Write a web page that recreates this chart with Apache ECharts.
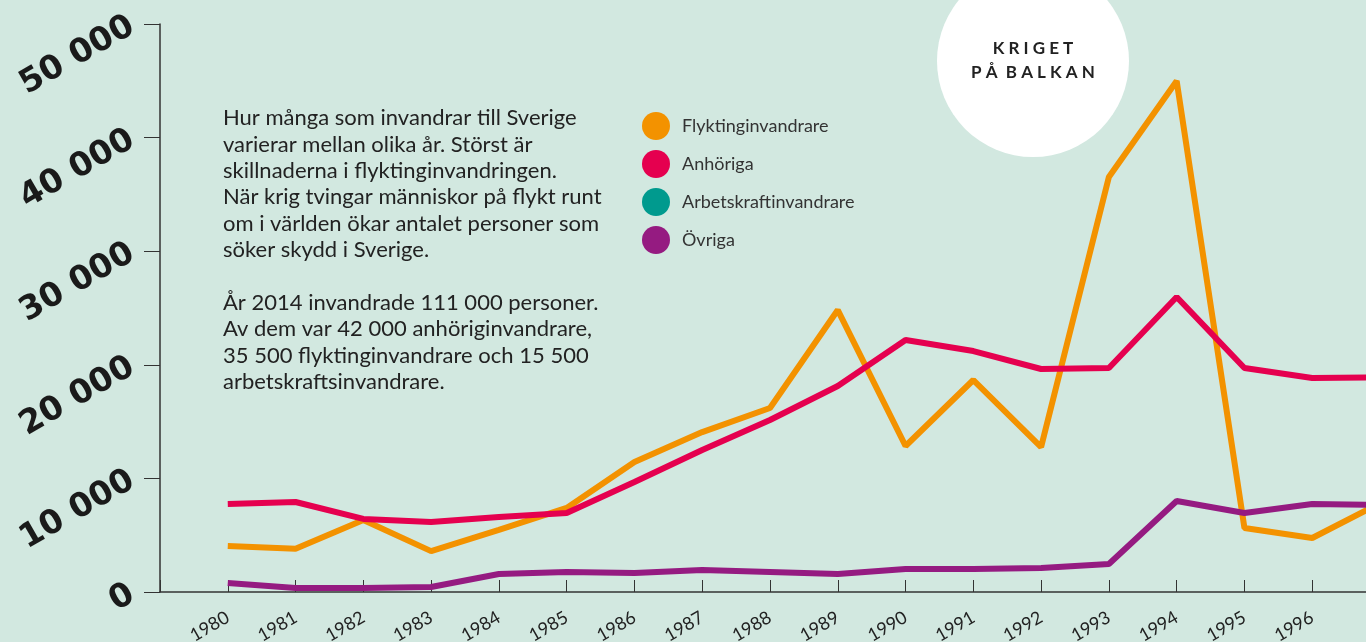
<!DOCTYPE html>
<html>
<head>
<meta charset="utf-8">
<script src="https://cdn.jsdelivr.net/npm/echarts@6/dist/echarts.min.js"></script>
<style>
  html, body { margin: 0; padding: 0; background: #d2e8e0; }
  #chart { width: 1366px; height: 642px; }
</style>
</head>
<body>
<div id="chart"></div>
<script>
// år 1980-1997 (1997 hamnar utanför bilden)
const years = [1980, 1981, 1982, 1983, 1984, 1985, 1986, 1987, 1988, 1989, 1990, 1991, 1992, 1993, 1994, 1995, 1996, 1997];
const flykting = [4050, 3800, 6340, 3600, 5460, 7400, 11440, 14080, 16200, 24820, 12850, 18660, 12760, 36530, 44980, 5630, 4750, 7830];
const anhoriga = [7750, 7920, 6430, 6160, 6600, 6950, 9680, 12500, 15140, 18130, 22180, 21210, 19630, 19720, 25970, 19720, 18840, 18900];
const arbetskraft = [];
const ovriga = [790, 350, 350, 440, 1580, 1760, 1670, 1940, 1760, 1580, 2020, 2020, 2110, 2460, 8010, 6950, 7750, 7660];
const yTicks = [0, 10000, 20000, 30000, 40000, 50000];

const seriesNames = ['Flyktinginvandrare', 'Anhöriga', 'Arbetskraftinvandrare', 'Övriga'];
const colors = ['#f39200', '#e5004f', '#009a8e', '#951b81'];

const infoText = [
  'Hur många som invandrar till Sverige',
  'varierar mellan olika år. Störst är',
  'skillnaderna i flyktinginvandringen.',
  'När krig tvingar människor på flykt runt',
  'om i världen ökar antalet personer som',
  'söker skydd i Sverige.',
  '',
  'År 2014 invandrade 111 000 personer.',
  'Av dem var 42 000 anhöriginvandrare,',
  '35 500 flyktinginvandrare och 15 500',
  'arbetskraftsinvandrare.'
].join('\n');

const toPairs = vals => vals.map((v, i) => [years[i], v]);

const chart = echarts.init(document.getElementById('chart'));

const option = {
  backgroundColor: '#d2e8e0',
  animation: false,
  color: colors,
  textStyle: { fontFamily: 'Lato' },
  grid: { left: 160, top: 24, bottom: 50, width: 1220, outerBoundsMode: 'none', containLabel: false },
  legend: {
    data: seriesNames,
    orient: 'vertical',
    left: 637,
    top: 107,
    icon: 'circle',
    itemWidth: 28,
    itemHeight: 28,
    itemGap: 10,
    textStyle: { fontSize: 18, color: '#333', fontFamily: 'Lato', padding: [0, 0, 0, 7] }
  },
  xAxis: {
    type: 'value',
    min: 1979,
    max: 1997,
    interval: 1,
    axisLine: { lineStyle: { color: '#333', width: 1.5 } },
    axisTick: { inside: true, length: 12, lineStyle: { color: '#333', width: 1 } },
    splitLine: { show: false },
    axisLabel: {
      rotate: 30,
      margin: 24,
      fontSize: 18,
      color: '#222',
      fontFamily: 'Lato',
      formatter: v => (v >= years[0] && v <= 1996 ? String(v) : '')
    }
  },
  yAxis: {
    type: 'value',
    min: yTicks[0],
    max: yTicks[yTicks.length - 1],
    interval: 10000,
    axisLine: { show: true, lineStyle: { color: '#333', width: 1.5 } },
    axisTick: { show: true, length: 16, lineStyle: { color: '#333', width: 1 } },
    splitLine: { show: false },
    axisLabel: {
      rotate: 30,
      margin: 28,
      fontSize: 33,
      fontWeight: 'bold',
      color: '#1a1a1a',
      fontFamily: 'DejaVu Sans',
      formatter: v => (v === 0 ? '0' : String(v).replace(/\B(?=(\d{3})+(?!\d))/g, ' '))
    }
  },
  series: [flykting, anhoriga, arbetskraft, ovriga].map((vals, i) => ({
    name: seriesNames[i],
    type: 'line',
    data: toPairs(vals),
    showSymbol: false,
    symbol: 'circle',
    lineStyle: { width: 6, color: colors[i] },
    itemStyle: { color: colors[i] },
    z: 3
  })),
  graphic: [
    {
      type: 'circle',
      shape: { cx: 1033, cy: 61, r: 96 },
      style: { fill: '#ffffff' },
      z: 1
    },
    {
      type: 'text',
      x: 1033,
      y: 37,
      style: {
        text: 'K R I G E T\nP Å  B A L K A N',
        fill: '#222',
        font: 'bold 17px Lato',
        align: 'center',
        verticalAlign: 'top',
        lineHeight: 24
      },
      z: 2
    },
    {
      type: 'text',
      left: 223,
      top: 105,
      style: {
        text: infoText,
        fill: '#222',
        font: '22px Lato',
        lineHeight: 26.4
      },
      z: 2
    }
  ]
};

chart.setOption(option);
</script>
</body>
</html>
